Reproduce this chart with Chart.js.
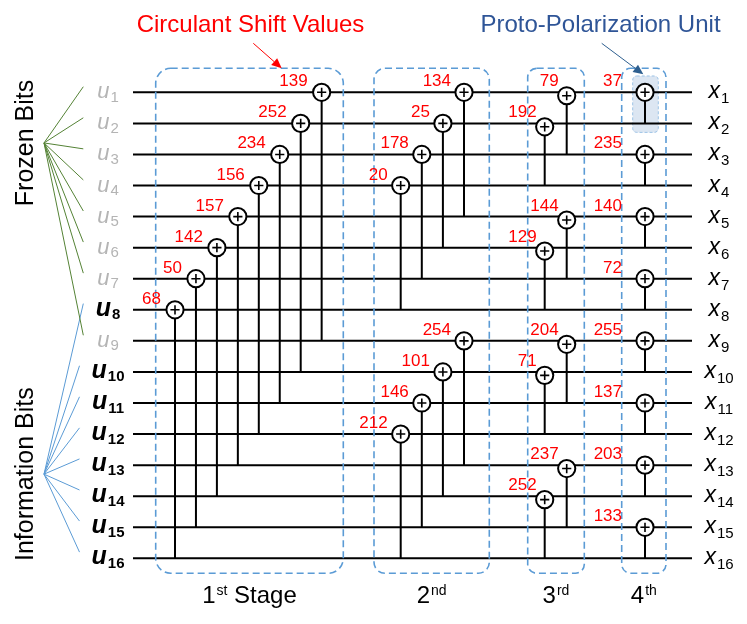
<!DOCTYPE html>
<html>
<head>
<meta charset="utf-8">
<script src="https://cdn.jsdelivr.net/npm/chart.js@4.4.1/dist/chart.umd.min.js"></script>
<style>
  html, body { margin: 0; padding: 0; background: #fff; }
  #wrap { width: 747px; height: 624px; position: relative; }
</style>
</head>
<body>
<div id="wrap"><canvas id="encoder"></canvas></div>
<script>
// 16 input bits, which ones are frozen / information
const ROWS = [1, 2, 3, 4, 5, 6, 7, 8, 9, 10, 11, 12, 13, 14, 15, 16];
const FROZEN_ROWS = [1, 2, 3, 4, 5, 6, 7, 9];
const INFO_ROWS = [8, 10, 11, 12, 13, 14, 15, 16];

// XOR nodes per stage: node row, row it is fed from, circulant shift value
const s1Rows = [1, 2, 3, 4, 5, 6, 7, 8];
const s1Targets = [9, 10, 11, 12, 13, 14, 15, 16];
const s1Shifts = [139, 252, 234, 156, 157, 142, 50, 68];

const s2Rows = [1, 2, 3, 4, 9, 10, 11, 12];
const s2Targets = [5, 6, 7, 8, 13, 14, 15, 16];
const s2Shifts = [134, 25, 178, 20, 254, 101, 146, 212];

const s3Rows = [1, 2, 5, 6, 9, 10, 13, 14];
const s3Targets = [3, 4, 7, 8, 11, 12, 15, 16];
const s3Shifts = [79, 192, 144, 129, 204, 71, 237, 252];

const s4Rows = [1, 3, 5, 7, 9, 11, 13, 15];
const s4Targets = [2, 4, 6, 8, 10, 12, 14, 16];
const s4Shifts = [37, 235, 140, 72, 255, 137, 203, 133];

const stageNums = ["1", "2", "3", "4"];
const stageSuffix = ["st", "nd", "rd", "th"];

// ---- layout (not data) ----
const STAGES = [
  { rows: s1Rows, targets: s1Targets, shifts: s1Shifts },
  { rows: s2Rows, targets: s2Targets, shifts: s2Shifts },
  { rows: s3Rows, targets: s3Targets, shifts: s3Shifts },
  { rows: s4Rows, targets: s4Targets, shifts: s4Shifts },
];
const WIRE_X = [133, 692];
const BOX_X = [[155.7, 343.3], [374, 489.3], [527.7, 584.3], [621.7, 666]];
const BOX_R = [15, 11, 9, 9];
const BOX_ROWS = [0.228, 16.48];
const NODE_DROP = [0, 0, 0.11, 0];
const LABEL_DX = [-14, -13, -8, -23];

function nodeX(stage, row) {
  if (stage === 0) return 175 + (8 - row) * 20.95;
  if (stage === 1) return 464 - ((row - 1) % 4) * 21.1;
  if (stage === 2) return 566.7 - ((row - 1) % 2) * 22;
  return 645;
}

const nodes = [], verticals = [];
STAGES.forEach((st, s) => {
  st.rows.forEach((r, i) => {
    const x = nodeX(s, r);
    nodes.push({ x: x, y: r + NODE_DROP[s] });
    verticals.push({ x: x, y: r + NODE_DROP[s] }, { x: x, y: st.targets[i] }, { x: null, y: null });
  });
});

const wires = [];
ROWS.forEach(r => wires.push({ x: WIRE_X[0], y: r }, { x: WIRE_X[1], y: r }, { x: null, y: null }));

const greenFan = [], blueFan = [];
FROZEN_ROWS.forEach(r => greenFan.push({ x: 44, y: 2.63 }, { x: 83.3, y: r - 0.18 }, { x: null, y: null }));
INFO_ROWS.forEach(r => blueFan.push({ x: 44, y: 13.29 }, { x: r === 8 ? 83.3 : 79.5, y: r - 0.2 }, { x: null, y: null }));

const lineSet = (data, color, width, order) => ({
  data: data, showLine: true, borderColor: color, borderWidth: width,
  pointRadius: 0, spanGaps: false, order: order, clip: false,
});

const FONT = "'Liberation Sans', Arial, sans-serif";

function subLabel(ctx, main, sub, cx, base, mainFont, subFont, color, drop) {
  ctx.font = mainFont;
  const w1 = ctx.measureText(main).width;
  ctx.font = subFont;
  const w2 = ctx.measureText(sub).width;
  const x0 = cx - (w1 + w2 + 1) / 2;
  ctx.fillStyle = color;
  ctx.textAlign = "left";
  ctx.font = mainFont;
  ctx.fillText(main, x0, base);
  ctx.font = subFont;
  ctx.fillText(sub, x0 + w1 + 1, base + drop);
}

function arrow(ctx, x1, y1, x2, y2, color) {
  const a = Math.atan2(y2 - y1, x2 - x1), len = 10, hw = 4.5;
  ctx.strokeStyle = color;
  ctx.fillStyle = color;
  ctx.lineWidth = 1;
  ctx.beginPath();
  ctx.moveTo(x1, y1);
  ctx.lineTo(x2 - len * Math.cos(a), y2 - len * Math.sin(a));
  ctx.stroke();
  ctx.beginPath();
  ctx.moveTo(x2, y2);
  ctx.lineTo(x2 - len * Math.cos(a) + hw * Math.sin(a), y2 - len * Math.sin(a) - hw * Math.cos(a));
  ctx.lineTo(x2 - len * Math.cos(a) - hw * Math.sin(a), y2 - len * Math.sin(a) + hw * Math.cos(a));
  ctx.closePath();
  ctx.fill();
}

const framePlugin = {
  id: "frame",
  beforeDatasetsDraw(chart) {
    const ctx = chart.ctx, X = v => chart.scales.x.getPixelForValue(v), Y = v => chart.scales.y.getPixelForValue(v);
    ctx.save();
    // proto-polarization unit shading
    ctx.fillStyle = "#dce6f2";
    ctx.strokeStyle = "#9dc3e6";
    ctx.lineWidth = 1;
    ctx.setLineDash([3, 2]);
    ctx.beginPath();
    ctx.roundRect(X(632.7), Y(0.475), X(658.3) - X(632.7), Y(2.29) - Y(0.475), 4);
    ctx.fill();
    ctx.stroke();
    ctx.restore();
  },
  afterDatasetsDraw(chart) {
    const ctx = chart.ctx, X = v => chart.scales.x.getPixelForValue(v), Y = v => chart.scales.y.getPixelForValue(v);
    ctx.save();
    // dashed stage boxes
    ctx.strokeStyle = "#5b9bd5";
    ctx.lineWidth = 1.6;
    ctx.setLineDash([7, 4]);
    BOX_X.forEach((bx, i) => {
      ctx.beginPath();
      ctx.roundRect(X(bx[0]), Y(BOX_ROWS[0]), X(bx[1]) - X(bx[0]), Y(BOX_ROWS[1]) - Y(BOX_ROWS[0]), BOX_R[i]);
      ctx.stroke();
    });
    ctx.setLineDash([]);

    // shift values
    ctx.fillStyle = "#ff0000";
    ctx.font = "17px " + FONT;
    ctx.textAlign = "right";
    ctx.textBaseline = "alphabetic";
    STAGES.forEach((st, s) => {
      st.rows.forEach((r, i) => {
        ctx.fillText(String(st.shifts[i]), X(nodeX(s, r)) + LABEL_DX[s], Y(r) - 6);
      });
    });

    // input / output labels
    ROWS.forEach(r => {
      const info = INFO_ROWS.includes(r);
      subLabel(ctx, "u", String(r), X(108), Y(r) + 6,
        info ? "italic bold 25px " + FONT : "italic 22px " + FONT,
        info ? "bold 15px " + FONT : "15px " + FONT,
        info ? "#000" : "#b4b4b4", 3.5);
      subLabel(ctx, "x", String(r), X(719), Y(r) + 6, "italic 23px " + FONT, "15px " + FONT, "#000", 5);
    });

    // stage captions
    BOX_X.forEach((bx, i) => {
      const cx = X((bx[0] + bx[1]) / 2), base = Y(16) + 45;
      const tail = i === 0 ? " Stage" : "";
      ctx.font = "24px " + FONT;
      const wn = ctx.measureText(stageNums[i]).width, wt = ctx.measureText(tail).width;
      ctx.font = "14px " + FONT;
      const ws = ctx.measureText(stageSuffix[i]).width;
      let x0 = cx - (wn + ws + wt + 1) / 2;
      ctx.fillStyle = "#000";
      ctx.textAlign = "left";
      ctx.font = "24px " + FONT;
      ctx.fillText(stageNums[i], x0, base);
      ctx.font = "14px " + FONT;
      ctx.fillText(stageSuffix[i], x0 + wn + 1, base - 8);
      ctx.font = "24px " + FONT;
      ctx.fillText(tail, x0 + wn + ws + 1, base);
    });

    // side captions
    ctx.fillStyle = "#000";
    ctx.font = "25px " + FONT;
    ctx.textAlign = "center";
    [["Frozen Bits", 2.63], ["Information Bits", 13.29]].forEach(t => {
      ctx.save();
      ctx.translate(X(33), Y(t[1]));
      ctx.rotate(-Math.PI / 2);
      ctx.fillText(t[0], 0, 0);
      ctx.restore();
    });

    // titles and arrows
    ctx.font = "24px " + FONT;
    ctx.fillStyle = "#ff0000";
    ctx.fillText("Circulant Shift Values", X(250.5), Y(1) - 60);
    ctx.fillStyle = "#2f5597";
    ctx.fillText("Proto-Polarization Unit", X(600.5), Y(1) - 60);
    arrow(ctx, X(253.3), Y(1) - 49, X(281.7), Y(1) - 24, "#ff0000");
    arrow(ctx, X(601.7), Y(1) - 49, X(643.3), Y(1) - 18, "#2e5f8f");
    ctx.restore();
  },
};

new Chart(document.getElementById("encoder"), {
  type: "scatter",
  data: {
    datasets: [
      { data: nodes, pointStyle: "cross", pointRadius: 4.6, borderColor: "#000", borderWidth: 1.6, order: 0, clip: false },
      { data: nodes, pointStyle: "circle", pointRadius: 8.6, backgroundColor: "#fff", borderColor: "#000", borderWidth: 2, order: 1, clip: false },
      lineSet(verticals, "#000", 2, 2),
      lineSet(wires, "#000", 2, 3),
      lineSet(greenFan, "#548235", 1, 4),
      lineSet(blueFan, "#5b9bd5", 1, 5),
    ],
  },
  options: {
    responsive: true,
    maintainAspectRatio: false,
    animation: false,
    events: [],
    layout: { padding: 0, autoPadding: false },
    plugins: { legend: { display: false }, tooltip: { enabled: false } },
    scales: {
      x: { type: "linear", min: 0, max: 747, display: false },
      y: { type: "linear", min: -1.971, max: 18.113, reverse: true, display: false },
    },
  },
  plugins: [framePlugin],
});
</script>
</body>
</html>
